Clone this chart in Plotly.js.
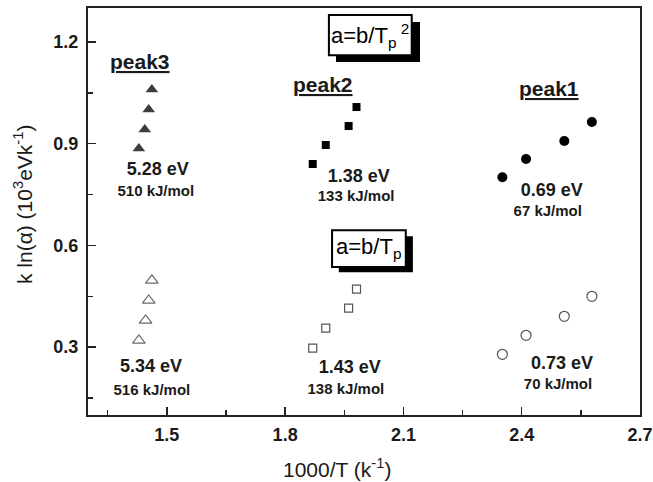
<!DOCTYPE html>
<html>
<head>
<meta charset="utf-8">
<script src="https://cdn.plot.ly/plotly-3.0.1.min.js"></script>
<style>html,body{margin:0;padding:0;background:#fff;}#chart{width:653px;height:482px;}</style>
</head>
<body>
<div id="chart"></div>
<script>
// peak3
var peak3X = [1.429, 1.444, 1.454, 1.462];
var peak3SqY = [0.886, 0.942, 1.001, 1.060];   // a=b/Tp^2 (filled)
var peak3LinX = [1.429, 1.446, 1.454, 1.462];
var peak3LinY = [0.320, 0.379, 0.438, 0.497];  // a=b/Tp (open)
// peak2
var peak2X = [1.870, 1.903, 1.961, 1.981];
var peak2SqY = [0.840, 0.896, 0.952, 1.008];
var peak2LinY = [0.297, 0.356, 0.415, 0.471];
// peak1
var peak1X = [2.351, 2.411, 2.508, 2.578];
var peak1SqY = [0.801, 0.855, 0.908, 0.964];
var peak1LinY = [0.279, 0.335, 0.391, 0.450];

// activation energies (labels)
var energyEV = ['5.28 eV', '1.38 eV', '0.69 eV', '5.34 eV', '1.43 eV', '0.73 eV'];
var energyKJ = ['510 kJ/mol', '133 kJ/mol', '67 kJ/mol', '516 kJ/mol', '138 kJ/mol', '70 kJ/mol'];

var xTicks = [1.5, 1.8, 2.1, 2.4, 2.7];
var yTicks = [0.3, 0.6, 0.9, 1.2];

var F = '"Liberation Sans", Arial, Helvetica, sans-serif';

var traces = [
  {x: peak3X, y: peak3SqY, mode: 'markers', type: 'scatter', name: 'peak3 Tp²',
   marker: {symbol: 'triangle-up', size: 11, color: '#3c3c3c'}},
  {x: peak2X, y: peak2SqY, mode: 'markers', type: 'scatter', name: 'peak2 Tp²',
   marker: {symbol: 'square', size: 8, color: '#000'}},
  {x: peak1X, y: peak1SqY, mode: 'markers', type: 'scatter', name: 'peak1 Tp²',
   marker: {symbol: 'circle', size: 10, color: '#000'}},
  {x: peak3LinX, y: peak3LinY, mode: 'markers', type: 'scatter', name: 'peak3 Tp',
   marker: {symbol: 'triangle-up-open', size: 11, color: '#6a6a6a', line: {width: 1.2}}},
  {x: peak2X, y: peak2LinY, mode: 'markers', type: 'scatter', name: 'peak2 Tp',
   marker: {symbol: 'square-open', size: 8, color: '#555', line: {width: 1.2}}},
  {x: peak1X, y: peak1LinY, mode: 'markers', type: 'scatter', name: 'peak1 Tp',
   marker: {symbol: 'circle-open', size: 10, color: '#555', line: {width: 1.2}}},
  {x: [1.477, 1.987, 2.476, 1.460, 1.964, 2.502], y: [0.822, 0.801, 0.760, 0.241, 0.238, 0.250],
   mode: 'text', type: 'scatter', text: energyEV, textposition: 'middle center', name: 'eV',
   textfont: {family: F, size: 18, color: '#1a1a1a', weight: 'bold'}},
  {x: [1.472, 1.980, 2.466, 1.462, 1.954, 2.492], y: [0.757, 0.742, 0.698, 0.170, 0.173, 0.188],
   mode: 'text', type: 'scatter', text: energyKJ, textposition: 'middle center', name: 'kJ/mol',
   textfont: {family: F, size: 15, color: '#1a1a1a', weight: 'bold'}}
];

function lab(x, y, t, size) {
  return {x: x, y: y, xref: 'x', yref: 'y', text: t, showarrow: false,
          xanchor: 'center', yanchor: 'middle',
          font: {family: F, size: size, color: '#1a1a1a', weight: 'bold'}};
}

var annotations = [
  lab(1.432, 1.141, '<u>peak3</u>', 21),
  lab(1.896, 1.073, '<u>peak2</u>', 21),
  lab(2.469, 1.064, '<u>peak1</u>', 21),
  {x: 2.016, y: 1.220, xref: 'x', yref: 'y', showarrow: false, xanchor: 'center', yanchor: 'middle',
   text: 'a=b/T<sub>p</sub><sup> 2</sup>', font: {family: F, size: 22, color: '#000'}},
  {x: 2.012, y: 0.592, xref: 'x', yref: 'y', showarrow: false, xanchor: 'center', yanchor: 'middle',
   text: 'a=b/T<sub>p</sub>', font: {family: F, size: 22, color: '#000'}},
  {x: 0.451, y: -0.130, xref: 'paper', yref: 'paper', showarrow: false, xanchor: 'center', yanchor: 'middle',
   text: '1000/T (k<sup>-1</sup>)', font: {family: F, size: 21, color: '#1a1a1a'}},
  {x: -0.118, y: 0.518, xref: 'paper', yref: 'paper', showarrow: false, xanchor: 'center', yanchor: 'middle',
   textangle: -90, text: 'k ln(α) (10<sup>3</sup>eVk<sup>-1</sup>)', font: {family: F, size: 21, color: '#1a1a1a'}}
];

var shapes = [
  {type: 'rect', xref: 'x', yref: 'y', x0: 1.929, x1: 2.142, y0: 1.141, y1: 1.259,
   fillcolor: '#000', line: {width: 0}},
  {type: 'rect', xref: 'x', yref: 'y', x0: 1.911, x1: 2.121, y0: 1.161, y1: 1.279,
   fillcolor: '#fff', line: {color: '#000', width: 2}},
  {type: 'rect', xref: 'x', yref: 'y', x0: 1.936, x1: 2.124, y0: 0.521, y1: 0.627,
   fillcolor: '#000', line: {width: 0}},
  {type: 'rect', xref: 'x', yref: 'y', x0: 1.919, x1: 2.106, y0: 0.536, y1: 0.645,
   fillcolor: '#fff', line: {color: '#000', width: 2}}
];

var layout = {
  width: 653, height: 482,
  margin: {l: 88, r: 13, t: 8, b: 67},
  paper_bgcolor: '#fff', plot_bgcolor: '#fff',
  showlegend: false,
  xaxis: {
    range: [1.3, 2.7], tickvals: xTicks, ticktext: xTicks.map(function(v){return v.toFixed(1);}),
    ticks: 'inside', ticklen: 8, tickwidth: 1.5, tickcolor: '#222',
    minor: {dtick: 0.15, tick0: 1.35, ticks: 'inside', ticklen: 5, tickwidth: 1.5, tickcolor: '#222'},
    showline: true, linewidth: 2, linecolor: '#222', mirror: true,
    showgrid: false, zeroline: false,
    tickfont: {family: F, size: 18, color: '#1a1a1a', weight: 'bold'},
    ticklabelstandoff: 2
  },
  yaxis: {
    range: [0.1, 1.3], tickvals: yTicks, ticktext: yTicks.map(function(v){return v.toFixed(1);}),
    ticks: 'inside', ticklen: 8, tickwidth: 1.5, tickcolor: '#222',
    minor: {dtick: 0.15, tick0: 0.15, ticks: 'inside', ticklen: 5, tickwidth: 1.5, tickcolor: '#222'},
    showline: true, linewidth: 2, linecolor: '#222', mirror: true,
    showgrid: false, zeroline: false,
    tickfont: {family: F, size: 18, color: '#1a1a1a', weight: 'bold'},
    ticklabelstandoff: 4
  },
  shapes: shapes,
  annotations: annotations
};

Plotly.newPlot('chart', traces, layout, {staticPlot: true, displayModeBar: false});
</script>
</body>
</html>
